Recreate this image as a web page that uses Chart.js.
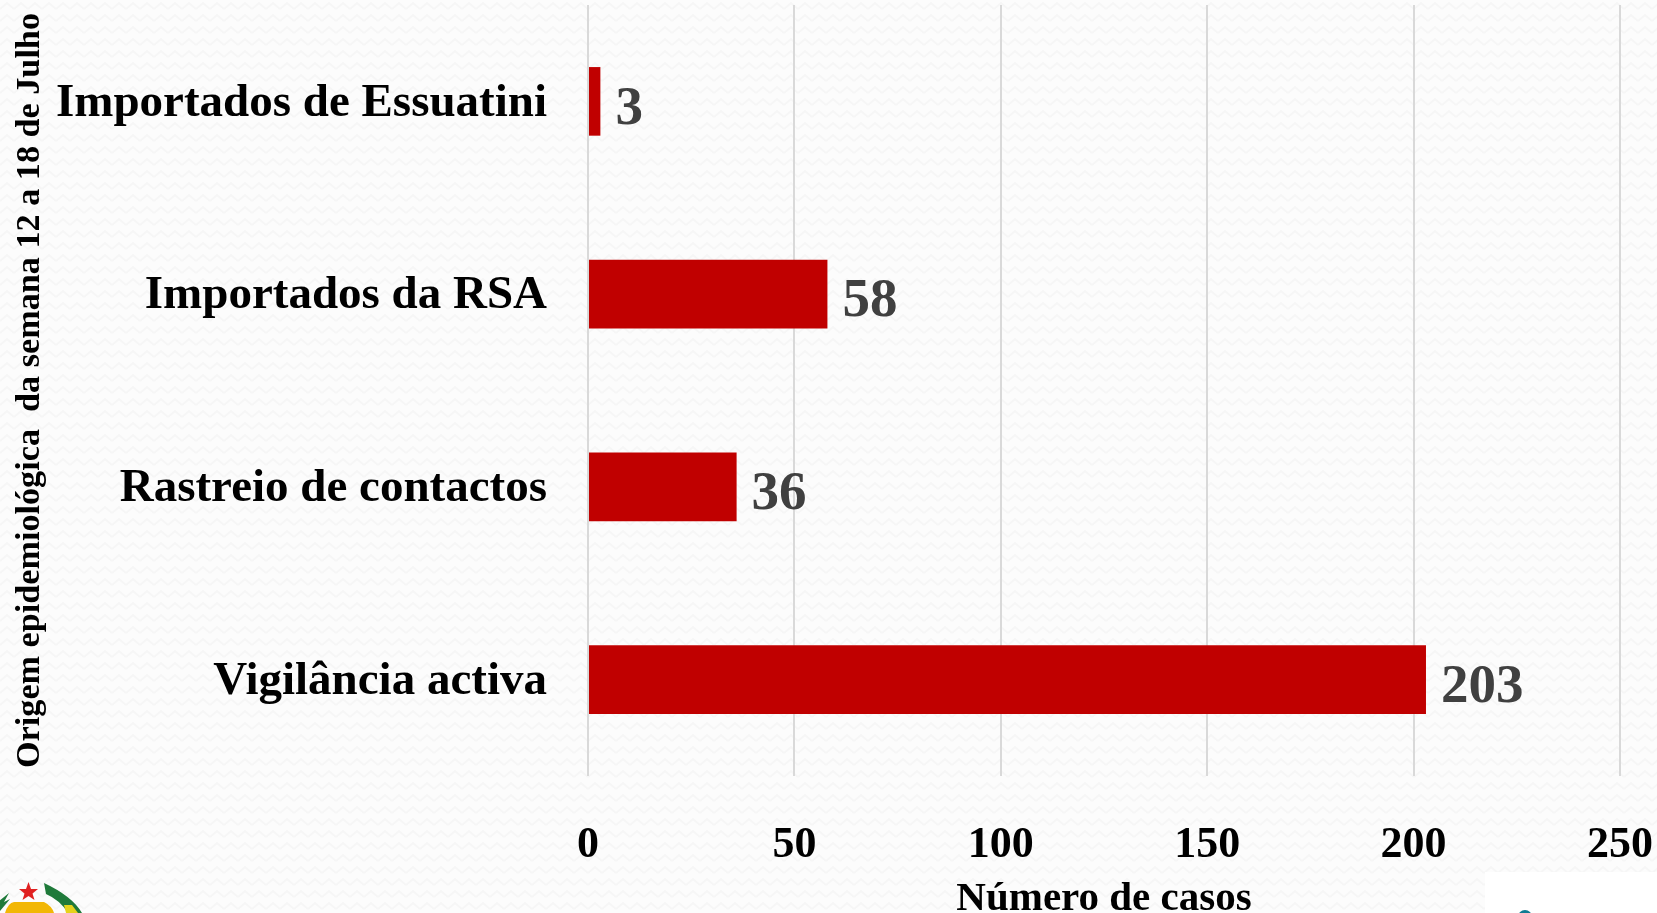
<!DOCTYPE html>
<html lang="pt">
<head>
<meta charset="utf-8">
<title>Origem epidemiológica</title>
<script src="https://cdn.jsdelivr.net/npm/chart.js@4"></script>
<style>
  html, body { margin: 0; padding: 0; width: 1657px; height: 913px; overflow: hidden; }
  body {
    position: relative;
    background-color: #fcfcfc;
    background-image: url("data:image/svg+xml,%3Csvg xmlns='http://www.w3.org/2000/svg' width='14' height='12'%3E%3Cpath d='M0 9 L7 3 L14 9' fill='none' stroke='%23f6f6f6' stroke-width='2'/%3E%3C/svg%3E");
  }
  #chartBox { position: absolute; left: 0; top: 0; width: 1657px; height: 913px; }
  #logoBox { position: absolute; left: 1485px; top: 872px; width: 172px; height: 41px; background: #fff; }
  #crest { position: absolute; left: 0; top: 878px; }
</style>
</head>
<body>
<svg id="crest" width="90" height="35" viewBox="0 0 90 35">
  <path d="M-2 24 L9 15 L4 24 L10 21 L0 33 Z" fill="#1f7a3a"/>
  <path d="M5 35 Q8 25 14 24 L44 24 Q52 28 54 35 Z" fill="#f2b705"/>
  <path d="M44 5 Q72 18 82 35 L68 35 Q60 22 46 16 Z" fill="#1f7a3a"/>
  <path d="M64 27 L72 27 L78 35 L66 35 Z" fill="#e6d21c"/>
  <polygon points="28.5,4 31,11 38,11 32.5,15.5 34.5,22 28.5,18 22.5,22 24.5,15.5 19,11 26,11" fill="#e02020"/>
</svg>
<div id="logoBox">
  <svg width="172" height="41"><circle cx="40" cy="45" r="7" fill="#0f7c93"/></svg>
</div>
<div id="chartBox"><canvas id="casosChart" width="1657" height="913"></canvas></div>
<script>
  const categorias = ['Importados de Essuatini', 'Importados da RSA', 'Rastreio de contactos', 'Vigilância activa'];
  const casos = [3, 58, 36, 203];
  const ticksX = [0, 50, 100, 150, 200, 250];
  const tituloX = 'Número de casos';
  const tituloY = 'Origem epidemiológica  da semana 12 a 18 de Julho';

  const serif = '"Liberation Serif", serif';

  // Sem margens automaticas: a area do grafico fica onde a pomos
  function semMargens(axis) {
    axis.paddingTop = 0;
    axis.paddingBottom = 0;
    axis.paddingLeft = 0;
    axis.paddingRight = 0;
  }

  // Valor ao lado de cada barra
  const valoresPlugin = {
    id: 'valores',
    afterDatasetsDraw(chart) {
      const ctx = chart.ctx;
      ctx.save();
      ctx.font = 'bold 55px ' + serif;
      ctx.fillStyle = '#404040';
      ctx.textAlign = 'left';
      ctx.textBaseline = 'middle';
      chart.getDatasetMeta(0).data.forEach((bar, i) => {
        ctx.fillText(String(casos[i]), bar.x + 15, bar.y + 8);
      });
      ctx.restore();
    }
  };

  new Chart(document.getElementById('casosChart'), {
    type: 'bar',
    data: {
      labels: categorias,
      datasets: [{
        data: casos,
        backgroundColor: '#c00000',
        barPercentage: 0.356,
        categoryPercentage: 1
      }]
    },
    options: {
      indexAxis: 'y',
      responsive: false,
      animation: false,
      layout: { padding: { top: 5, right: 37, left: 10, bottom: 0 } },
      plugins: { legend: { display: false }, tooltip: { enabled: false } },
      scales: {
        x: {
          min: 0,
          max: 250,
          afterBuildTicks(axis) { axis.ticks = ticksX.map(v => ({ value: v })); },
          afterFit(axis) { axis.height = 137; semMargens(axis); },
          grid: { color: '#d9d9d9', lineWidth: 2, drawTicks: false },
          border: { display: false },
          ticks: {
            color: '#000',
            padding: 43,
            maxRotation: 0,
            font: { family: serif, weight: 'bold', size: 44 }
          },
          title: {
            display: true,
            text: tituloX,
            color: '#000',
            padding: { top: 0, bottom: -11 },
            font: { family: serif, weight: 'bold', size: 41 }
          }
        },
        y: {
          afterFit(axis) { axis.width = 578; semMargens(axis); },
          grid: { display: false },
          border: { display: false },
          ticks: {
            color: '#000',
            padding: 33,
            labelOffset: 2,
            crossAlign: 'near',
            font: { family: serif, weight: 'bold', size: 47 }
          },
          title: {
            display: true,
            text: tituloY,
            color: '#000',
            padding: { top: 0, bottom: 0 },
            font: { family: serif, weight: 'bold', size: 34.2 }
          }
        }
      }
    },
    plugins: [valoresPlugin]
  });
</script>
</body>
</html>
